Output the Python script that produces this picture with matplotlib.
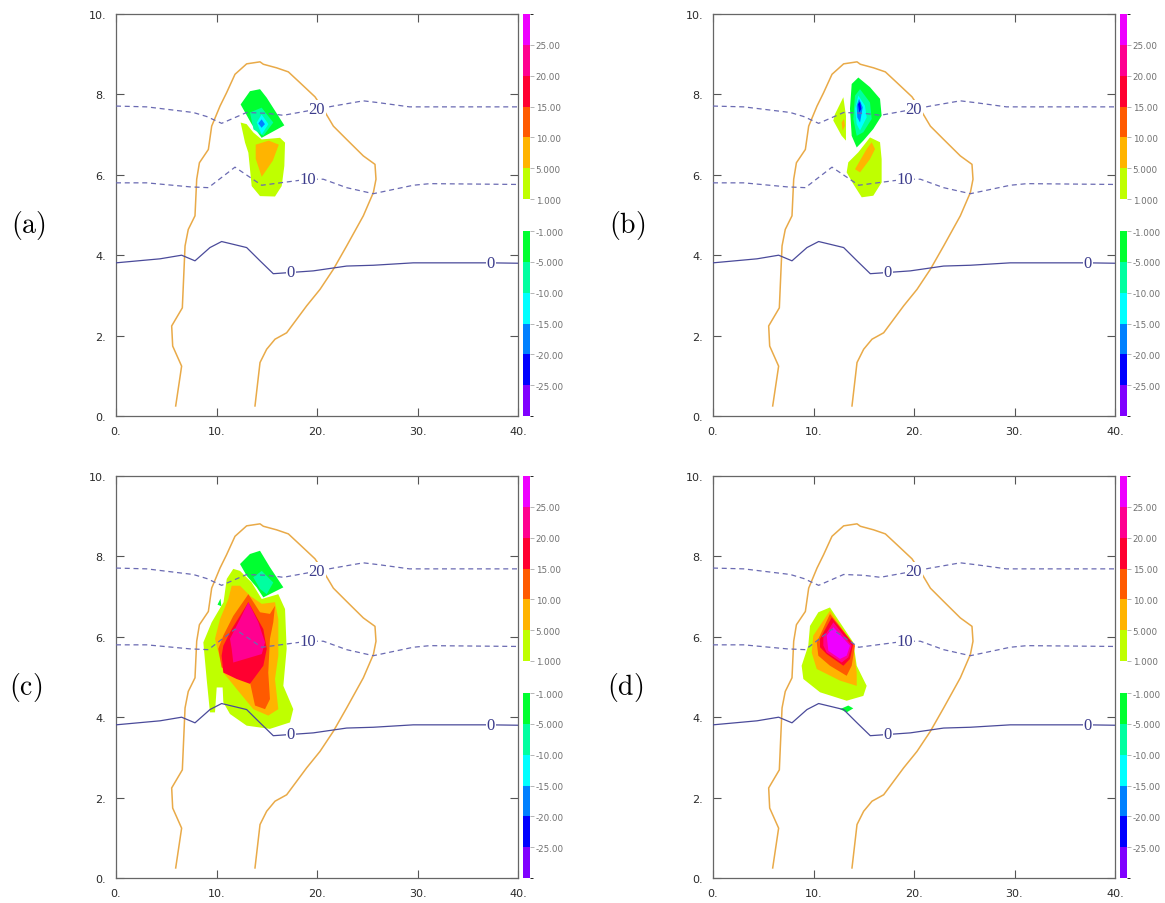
import matplotlib
matplotlib.use("Agg")
import matplotlib.pyplot as plt
from matplotlib.colors import ListedColormap, BoundaryNorm
from matplotlib.cm import ScalarMappable

# colour scales (two colour bars per panel)
POS_LEVELS = [1, 5, 10, 15, 20, 25, 30]
POS_COLORS = ['#bfff00', '#ffb400', '#ff5a00', '#ff0030', '#ff0090', '#ee00ff']
POS_TICKS = [1, 5, 10, 15, 20, 25]
POS_LABELS = ['1.000', '5.000', '10.00', '15.00', '20.00', '25.00']
NEG_LEVELS = [-30, -25, -20, -15, -10, -5, -1]
NEG_COLORS = ['#8000ff', '#0000ff', '#0080ff', '#00ffff', '#00ffa0', '#00ff30']
NEG_TICKS = [-25, -20, -15, -10, -5, -1]
NEG_LABELS = ['-25.00', '-20.00', '-15.00', '-10.00', '-5.000', '-1.000']

X_TICKS = [0, 10, 20, 30, 40]
X_LABELS = ['0.', '10.', '20.', '30.', '40.']
Y_TICKS = [0, 2, 4, 6, 8, 10]
Y_LABELS = ['0.', '2.', '4.', '6.', '8.', '10.']
PANEL_NAMES = ['(a)', '(b)', '(c)', '(d)']

# cloud boundary (same in every panel)
CLOUD_X = [5.94, 6.53, 5.64, 5.54, 6.60, 6.87, 7.19, 7.86, 8.03, 8.30, 9.19, 9.52, 10.35,
           11.0, 11.84, 13.0, 14.33, 14.66, 15.99, 17.15, 18.31, 19.80, 20.63, 21.63,
           22.95, 24.61, 25.77, 25.87, 25.61, 24.61, 22.95, 21.63, 20.30, 18.97, 16.98,
           15.82, 14.99, 14.33, 13.83]
CLOUD_Y = [0.25, 1.24, 1.74, 2.24, 2.69, 4.23, 4.64, 4.98, 5.89, 6.30, 6.63, 7.21, 7.71,
           8.04, 8.50, 8.76, 8.81, 8.75, 8.66, 8.56, 8.29, 7.94, 7.63, 7.21,
           6.88, 6.47, 6.26, 5.89, 5.56, 4.98, 4.23, 3.65, 3.15, 2.74, 2.07,
           1.91, 1.66, 1.33, 0.25]

# temperature isolines
T20_X = [0, 3.05, 7.69, 9.02, 10.51, 13.0, 14.99, 16.65, 19.96, 21.63, 24.61, 26.27, 29.2, 40]
T20_Y = [7.71, 7.69, 7.55, 7.45, 7.28, 7.55, 7.53, 7.48, 7.63, 7.71, 7.84, 7.79, 7.69, 7.69]
T10_X = [0, 3.05, 7.36, 9.19, 11.84, 14.5, 19.1, 20.63, 22.95, 25.61, 29.58, 31.24, 40]
T10_Y = [5.80, 5.80, 5.70, 5.68, 6.19, 5.74, 5.89, 5.89, 5.68, 5.53, 5.74, 5.78, 5.76]
T0_X = [0, 4.38, 6.53, 7.86, 9.35, 10.51, 11.68, 13.0, 14.33, 15.65, 17.38, 19.63, 22.95,
        25.61, 29.58, 37.3, 40]
T0_Y = [3.81, 3.91, 4.00, 3.86, 4.19, 4.34, 4.27, 4.19, 3.86, 3.54, 3.57, 3.61, 3.73,
        3.75, 3.81, 3.81, 3.80]
T_LABELS = [('20', 19.96, 7.63), ('10', 19.1, 5.89), ('0', 17.38, 3.57), ('0', 37.3, 3.81)]

# filled regions, (band value, outline) per panel
a_p3 = [(12.4, 7.30), (13.0, 7.26), (13.68, 7.05), (14.49, 6.88), (16.32, 6.92), (16.82, 6.80),
        (16.75, 6.22), (16.49, 5.72), (15.82, 5.46), (14.33, 5.47), (13.5, 5.72), (13.17, 6.55),
        (12.84, 6.80)]
a_p7 = [(13.9, 6.75), (15.2, 6.85), (16.2, 6.75), (15.6, 6.35), (14.5, 5.95), (13.9, 6.4)]
a_n3 = [(12.4, 7.75), (13.33, 8.08), (14.33, 8.13), (14.99, 7.92), (16.75, 7.23), (14.49, 6.92),
        (13.5, 7.26)]
a_n7 = [(13.33, 7.55), (14.49, 7.67), (15.65, 7.30), (14.66, 6.97), (13.68, 7.13)]
a_n12 = [(14.0, 7.30), (14.49, 7.50), (15.16, 7.26), (14.49, 7.0)]
a_n17 = [(14.16, 7.28), (14.49, 7.38), (14.82, 7.26), (14.49, 7.17)]

b_p3a = [(12.14, 7.51), (12.97, 7.93), (13.23, 7.47), (13.23, 6.85), (12.8, 6.97), (11.97, 7.35)]
b_p7a = [(12.8, 7.30), (13.03, 7.39), (13.13, 7.22), (12.9, 7.10)]
b_p3b = [(13.46, 6.31), (14.46, 6.56), (15.62, 6.93), (16.62, 6.81), (16.78, 6.39), (16.78, 5.81),
         (15.95, 5.48), (14.8, 5.44), (13.96, 5.77), (13.3, 6.06)]
b_p7b = [(14.13, 6.14), (15.29, 6.64), (15.79, 6.81), (16.12, 6.64), (15.62, 6.39), (14.63, 6.06)]
b_n3 = [(13.8, 8.26), (14.46, 8.42), (15.62, 8.18), (16.62, 7.89), (16.78, 7.47), (15.95, 7.14),
        (14.96, 6.85), (14.3, 6.68), (13.8, 6.97), (13.63, 7.64)]
b_n7 = [(14.13, 7.97), (14.63, 8.13), (15.62, 7.80), (15.79, 7.39), (14.96, 7.06), (14.3, 6.97),
        (13.96, 7.39)]
b_n12 = [(14.13, 7.64), (14.46, 7.97), (15.12, 7.72), (15.29, 7.43), (14.63, 7.10), (14.3, 7.26)]
b_n17 = [(14.3, 7.72), (14.53, 7.89), (14.9, 7.68), (14.63, 7.30), (14.36, 7.43)]
b_n22 = [(14.43, 7.76), (14.63, 7.82), (14.76, 7.64), (14.56, 7.55)]

c_p3 = [(11.67, 7.69), (12.34, 7.64), (13.5, 7.35), (14.5, 6.94), (16.15, 7.06), (16.82, 6.69),
        (16.98, 5.70), (16.65, 4.78), (17.64, 4.20), (17.31, 3.87), (15.32, 3.71), (13.0, 3.79),
        (11.34, 4.08), (10.68, 4.37), (10.61, 4.74), (10.02, 4.74), (9.85, 4.12), (9.35, 4.12),
        (9.02, 4.95), (8.69, 5.86), (9.52, 6.36), (10.7, 6.86), (11.02, 7.44)]
c_p7 = [(11.51, 7.27), (12.34, 7.27), (13.33, 7.02), (14.5, 6.82), (15.82, 6.86), (16.15, 6.44),
        (16.15, 5.53), (15.82, 4.95), (16.15, 4.20), (15.15, 4.04), (13.66, 4.20), (12.01, 4.70),
        (10.68, 5.11), (9.85, 5.95), (10.35, 6.44), (11.18, 6.94)]
c_p12 = [(10.68, 6.03), (11.67, 6.52), (13.17, 7.06), (14.33, 6.61), (15.32, 6.57), (15.82, 6.77),
         (15.65, 6.36), (15.32, 5.95), (15.15, 5.11), (15.32, 4.45), (14.83, 4.20), (13.83, 4.29),
         (13.33, 4.87), (12.01, 5.03), (10.51, 5.24), (10.18, 5.70)]
c_p17 = [(10.68, 5.78), (11.51, 6.19), (13.17, 6.86), (14.66, 6.19), (15.0, 5.70), (14.66, 5.28),
         (13.33, 4.83), (12.01, 4.95), (10.68, 5.11), (10.51, 5.53)]
c_p22 = [(11.34, 5.95), (12.34, 6.44), (13.17, 6.86), (14.16, 6.36), (14.83, 5.86), (14.5, 5.57),
         (11.67, 5.36), (11.51, 5.70)]
c_n3a = [(12.34, 7.81), (13.33, 8.06), (14.33, 8.14), (15.32, 7.73), (16.65, 7.23), (14.66, 6.98),
         (14.0, 7.23), (13.0, 7.52)]
c_n7 = [(13.66, 7.48), (14.5, 7.64), (15.65, 7.35), (15.0, 7.06), (14.33, 7.19)]
c_n3b = [(10.1, 6.80), (10.4, 6.95), (10.48, 6.76)]

d_p3 = [(10.48, 6.61), (11.64, 6.73), (13.96, 5.86), (14.3, 5.28), (15.29, 4.78), (14.96, 4.53),
        (13.3, 4.41), (10.65, 4.62), (8.99, 4.95), (8.82, 5.28), (9.48, 5.78), (9.65, 6.27)]
d_p7 = [(9.98, 6.03), (11.64, 6.65), (13.96, 5.78), (14.3, 5.11), (14.3, 4.78), (12.64, 4.91),
        (10.32, 5.20), (9.82, 5.61)]
d_p12 = [(10.32, 5.86), (11.64, 6.57), (14.13, 5.78), (13.8, 5.28), (13.3, 5.03), (11.64, 5.28),
         (10.48, 5.53)]
d_p17 = [(10.65, 5.95), (11.81, 6.48), (13.96, 5.82), (13.63, 5.45), (12.97, 5.28), (11.31, 5.57),
         (10.65, 5.74)]
d_p22 = [(10.98, 5.98), (11.98, 6.36), (13.8, 5.78), (13.46, 5.49), (12.81, 5.36), (11.31, 5.61),
         (10.98, 5.78)]
d_p27 = [(11.31, 6.03), (11.98, 6.24), (13.63, 5.78), (13.3, 5.53), (12.64, 5.45), (11.48, 5.65)]
d_n3 = [(12.64, 4.20), (13.46, 4.29), (13.96, 4.22), (13.3, 4.12)]

PANEL_FILLS = [
    [(3, a_p3), (7, a_p7), (-3, a_n3), (-7, a_n7), (-12, a_n12), (-17, a_n17)],
    [(3, b_p3a), (7, b_p7a), (3, b_p3b), (7, b_p7b), (-3, b_n3), (-7, b_n7), (-12, b_n12),
     (-17, b_n17), (-22, b_n22)],
    [(3, c_p3), (7, c_p7), (12, c_p12), (17, c_p17), (22, c_p22), (-3, c_n3a), (-7, c_n7),
     (-3, c_n3b)],
    [(3, d_p3), (7, d_p7), (12, d_p12), (17, d_p17), (22, d_p22), (27, d_p27), (-3, d_n3)],
]

W, H = 1165, 904
# pixel boxes of each panel: left, top
PANEL_POS = [(116, 15), (713, 15), (116, 477), (713, 477)]
LABEL_POS = [(28, 225), (627, 225), (26, 687), (625, 687)]
SIZE = 402

plt.rcParams['mathtext.fontset'] = 'cm'
fig = plt.figure(figsize=(W / 100, H / 100), dpi=100)

pos_cmap = ListedColormap(POS_COLORS)
pos_norm = BoundaryNorm(POS_LEVELS, pos_cmap.N)
neg_cmap = ListedColormap(NEG_COLORS)
neg_norm = BoundaryNorm(NEG_LEVELS, neg_cmap.N)

line_col = '#6a6ab2'
cloud_col = '#e9aa48'

for k in range(4):
    px, py = PANEL_POS[k]
    ax = fig.add_axes([px / W, 1 - (py + SIZE) / H, SIZE / W, SIZE / H])

    for val, poly in PANEL_FILLS[k]:
        if val > 0:
            col = pos_cmap(pos_norm(val))
        else:
            col = neg_cmap(neg_norm(val))
        ax.fill([p[0] for p in poly], [p[1] for p in poly], color=col, lw=0, zorder=1)

    ax.plot(CLOUD_X, CLOUD_Y, color=cloud_col, lw=1.1, zorder=3)
    ax.plot(T20_X, T20_Y, color=line_col, lw=0.9, ls=(0, (4, 3)), zorder=3)
    ax.plot(T10_X, T10_Y, color=line_col, lw=0.9, ls=(0, (4, 3)), zorder=3)
    ax.plot(T0_X, T0_Y, color='#4a4a9a', lw=0.9, zorder=3)
    for txt, tx, ty in T_LABELS:
        ax.text(tx, ty, txt, color='#3c3c8c', fontsize=12, family='Liberation Serif',
                ha='center', va='center', zorder=4,
                bbox=dict(facecolor='white', edgecolor='none', pad=0.6))

    ax.set_xlim(0, 40)
    ax.set_ylim(0, 10)
    ax.set_xticks(X_TICKS)
    ax.set_xticklabels(X_LABELS)
    ax.set_yticks(Y_TICKS)
    ax.set_yticklabels(Y_LABELS)
    ax.tick_params(direction='in', length=6, width=0.8, color='#555555', top=True, right=True,
                   labelsize=8, labelcolor='#2a2a2a', pad=7)
    for s in ax.spines.values():
        s.set_color('#666666')
        s.set_linewidth(0.9)

    # colour bars
    bx = px + SIZE + 5
    cax1 = fig.add_axes([bx / W, 1 - (py + 185) / H, 7 / W, 185 / H])
    cb1 = fig.colorbar(ScalarMappable(norm=pos_norm, cmap=pos_cmap), cax=cax1,
                       ticks=POS_TICKS)
    cb1.ax.set_yticklabels(POS_LABELS)
    cax2 = fig.add_axes([bx / W, 1 - (py + SIZE) / H, 7 / W, 185 / H])
    cb2 = fig.colorbar(ScalarMappable(norm=neg_norm, cmap=neg_cmap), cax=cax2,
                       ticks=NEG_TICKS)
    cb2.ax.set_yticklabels(NEG_LABELS)
    for cb in (cb1, cb2):
        cb.outline.set_visible(False)
        cb.ax.tick_params(length=3, width=0.6, color='#aaaaaa', labelsize=6.3,
                          labelcolor='#707070', pad=1)

    lx, ly = LABEL_POS[k]
    fig.text(lx / W, 1 - ly / H, r'$\mathrm{' + PANEL_NAMES[k] + '}$', fontsize=20,
             ha='center', va='center')

fig.savefig('out.png', dpi=100)
